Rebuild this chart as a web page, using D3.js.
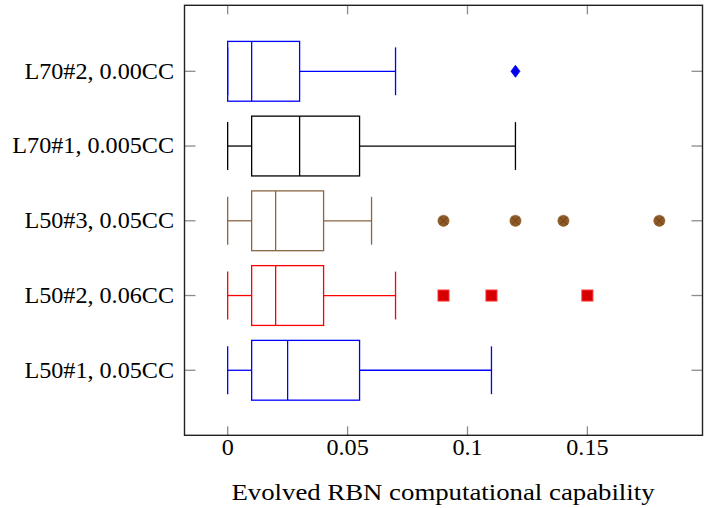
<!DOCTYPE html>
<html><head><meta charset="utf-8">
<script src="https://cdn.jsdelivr.net/npm/d3@7"></script>
<style>body{margin:0;background:#fff}svg{display:block}</style>
</head><body>
<svg id="c" width="709" height="508"></svg>
<script>
// Data (bottom to top)
const categories = ["L50#1, 0.05CC", "L50#2, 0.06CC", "L50#3, 0.05CC", "L70#1, 0.005CC", "L70#2, 0.00CC"];
const lowerWhisker = [0, 0, 0, 0, 0];
const lowerQuartile = [0.01, 0.01, 0.01, 0.01, 0];
const median = [0.025, 0.02, 0.02, 0.03, 0.01];
const upperQuartile = [0.055, 0.04, 0.04, 0.055, 0.03];
const upperWhisker = [0.11, 0.07, 0.06, 0.12, 0.07];
const outliers = [[], [0.09, 0.11, 0.15], [0.09, 0.12, 0.14, 0.18], [], [0.12]];
const colors = ["#0000ff", "#ff0000", "#8a6642", "#000000", "#0000ff"];
const markers = ["none", "square", "otimes", "none", "diamond"];
const xTicks = [0, 0.05, 0.1, 0.15];
const xTickLabels = ["0", "0.05", "0.1", "0.15"];
const xTitle = "Evolved RBN computational capability";

const svg = d3.select("#c");
const L = 184.5, R = 702.5, T = 5.3, B = 435.3;
const SX = 1.05; // horizontal text stretch
const FS = 23;
const x = d3.scaleLinear().domain([-0.018, 0.198]).range([L, R]);
const y = d3.scaleLinear().domain([0.13, 5.883]).range([B, T]);
const unit = y(0) - y(1);
const boxH = 0.8 * unit, capH = 0.64 * unit;
const font = "'Liberation Serif', 'Times New Roman', serif";

// ticks (gray, inward, all four sides)
const tickG = svg.append("g").attr("stroke", "#8c8c8c").attr("stroke-width", 1.3);
xTicks.forEach(t => {
  tickG.append("line").attr("x1", x(t)).attr("x2", x(t)).attr("y1", B).attr("y2", B - 9);
  tickG.append("line").attr("x1", x(t)).attr("x2", x(t)).attr("y1", T).attr("y2", T + 9);
});
categories.forEach((c, i) => {
  const yy = y(i + 1);
  tickG.append("line").attr("x1", L).attr("x2", L + 11).attr("y1", yy).attr("y2", yy);
  tickG.append("line").attr("x1", R).attr("x2", R - 11).attr("y1", yy).attr("y2", yy);
});

// boxes
categories.forEach((c, i) => {
  const g = svg.append("g").attr("stroke", colors[i]).attr("stroke-width", 1.3).attr("fill", "none");
  const yc = y(i + 1);
  g.append("rect").attr("x", x(lowerQuartile[i])).attr("y", yc - boxH / 2)
    .attr("width", x(upperQuartile[i]) - x(lowerQuartile[i])).attr("height", boxH);
  g.append("line").attr("x1", x(median[i])).attr("x2", x(median[i])).attr("y1", yc - boxH / 2).attr("y2", yc + boxH / 2);
  g.append("line").attr("x1", x(lowerWhisker[i])).attr("x2", x(lowerQuartile[i])).attr("y1", yc).attr("y2", yc);
  g.append("line").attr("x1", x(upperQuartile[i])).attr("x2", x(upperWhisker[i])).attr("y1", yc).attr("y2", yc);
  g.append("line").attr("x1", x(lowerWhisker[i])).attr("x2", x(lowerWhisker[i])).attr("y1", yc - capH / 2).attr("y2", yc + capH / 2);
  g.append("line").attr("x1", x(upperWhisker[i])).attr("x2", x(upperWhisker[i])).attr("y1", yc - capH / 2).attr("y2", yc + capH / 2);

  outliers[i].forEach(v => {
    const cx = x(v);
    if (markers[i] === "square") {
      svg.append("rect").attr("x", cx - 5.5).attr("y", yc - 5.5).attr("width", 11).attr("height", 11)
        .attr("fill", "#d60000").attr("stroke", "#ff3030").attr("stroke-width", 1);
    } else if (markers[i] === "otimes") {
      svg.append("circle").attr("cx", cx).attr("cy", yc).attr("r", 5.6)
        .attr("fill", "#8f5a28").attr("stroke", "#8f5a28").attr("stroke-width", 0.6);
      const d = 3.9;
      svg.append("path").attr("d", `M${cx - d},${yc - d}L${cx + d},${yc + d}M${cx - d},${yc + d}L${cx + d},${yc - d}`)
        .attr("stroke", "#6a4118").attr("stroke-width", 1);
    } else if (markers[i] === "diamond") {
      svg.append("path").attr("d", `M${cx},${yc - 6}L${cx + 4.5},${yc}L${cx},${yc + 6}L${cx - 4.5},${yc}Z`)
        .attr("fill", "#0000e6").attr("stroke", "#0000ff").attr("stroke-width", 0.8);
    }
  });
});

// frame
svg.append("rect").attr("x", L).attr("y", T).attr("width", R - L).attr("height", B - T)
  .attr("fill", "none").attr("stroke", "#222").attr("stroke-width", 1.4);

// x tick labels
xTicks.forEach((t, i) => {
  svg.append("text").attr("transform", `translate(${x(t)},${B + 20}) scale(${SX},1)`)
    .attr("text-anchor", "middle").attr("font-family", font).attr("font-size", FS).attr("fill", "#000")
    .text(xTickLabels[i]);
});
// y tick labels
categories.forEach((c, i) => {
  svg.append("text").attr("transform", `translate(${L - 10.5},${y(i + 1) + 7.3}) scale(${SX},1)`)
    .attr("text-anchor", "end").attr("font-family", font).attr("font-size", FS).attr("fill", "#000")
    .text(c);
});
// x title
svg.append("text").attr("transform", `translate(443,500) scale(1.165,1)`)
  .attr("text-anchor", "middle").attr("font-family", font).attr("font-size", FS).attr("fill", "#000")
  .text(xTitle);
</script>
</body></html>
